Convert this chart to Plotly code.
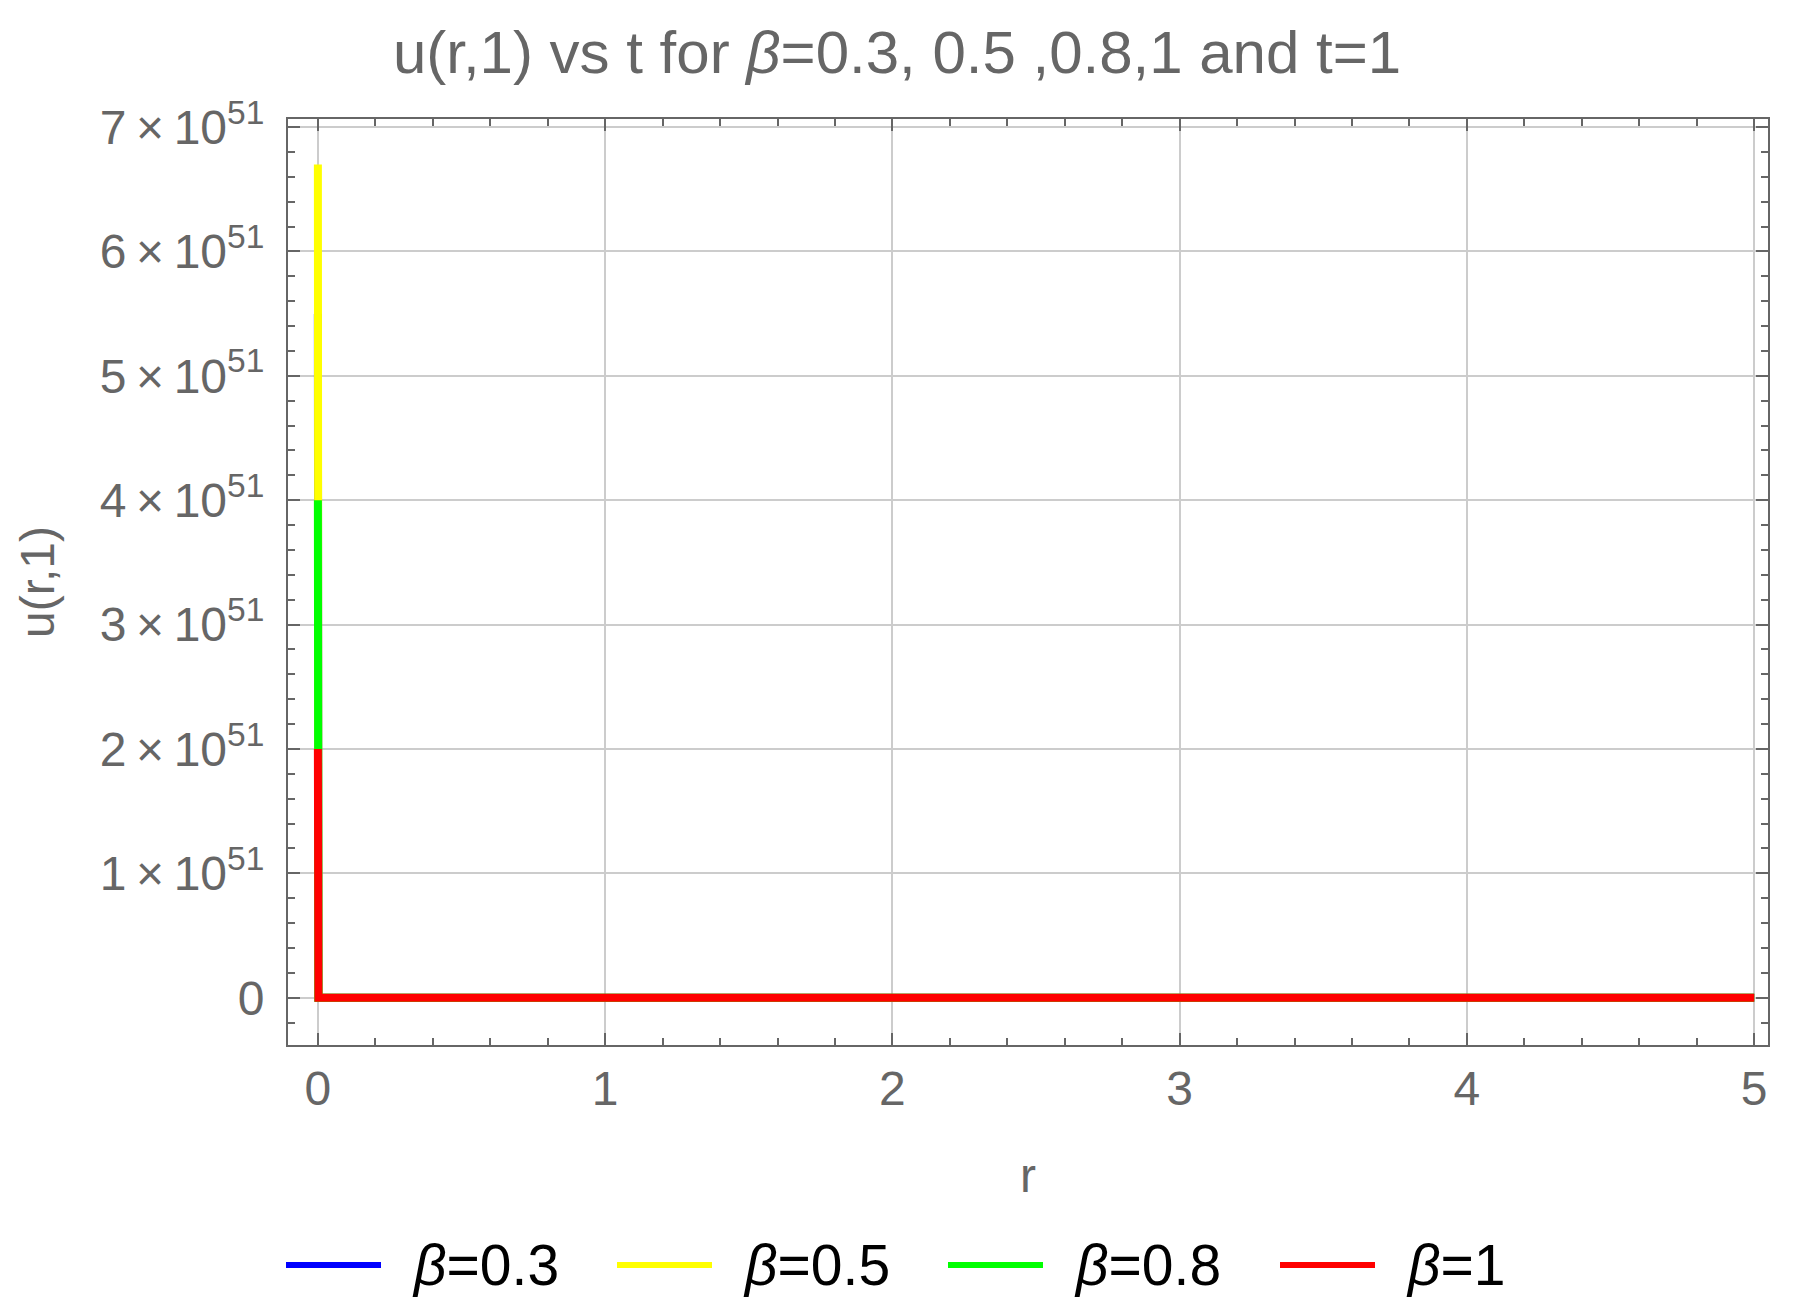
import plotly.graph_objects as go

# ---- data ----
r_vals = [0.0, 0.002, 5.0]
u_beta03 = [5.5e51, 0.0, 0.0]
u_beta05 = [6.7e51, 0.0, 0.0]
u_beta08 = [4.0e51, 0.0, 0.0]
u_beta1 = [2.0e51, 0.0, 0.0]
series_names = ["β=0.3", "β=0.5", "β=0.8", "β=1"]
legend_labels = ["<i>β</i>=0.3", "<i>β</i>=0.5", "<i>β</i>=0.8", "<i>β</i>=1"]
series_colors = ["#0000ff", "#ffff00", "#00ff00", "#ff0000"]
y_tickvals = [0, 1e51, 2e51, 3e51, 4e51, 5e51, 6e51, 7e51]
y_ticktext = ["0"] + [f"{k}\u2009×\u200910<sup>51</sup>" for k in range(1, 8)]
x_tickvals = [0, 1, 2, 3, 4, 5]

W, H = 1806, 1313
OFF = 8  # page body offset
L, R, T, B = 280, 46, 111, 276
PW, PH = W - L - R, H - T - B

FONT = "Liberation Sans, Arial, sans-serif"
GRAY = "#666666"

fig = go.Figure()
for name, ys, col in zip(series_names, [u_beta03, u_beta05, u_beta08, u_beta1], series_colors):
    fig.add_trace(go.Scatter(x=r_vals, y=ys, mode="lines", name=name,
                             line=dict(color=col, width=8), showlegend=False))

# custom legend (shapes + text) placed in paper coordinates (absolute page px -> paper)
def px2x(px):
    return (px - OFF - L) / PW

def py2y(py):
    return (H - B - (py - OFF)) / PH

leg_line_starts = [286, 617, 948, 1280]
leg_y = 1265
for i, (lab, col) in enumerate(zip(legend_labels, series_colors)):
    x0 = leg_line_starts[i]
    fig.add_shape(type="line", xref="paper", yref="paper",
                  x0=px2x(x0), x1=px2x(x0 + 95), y0=py2y(leg_y), y1=py2y(leg_y),
                  line=dict(color=col, width=6))
    fig.add_annotation(xref="paper", yref="paper", x=px2x(x0 + 124), y=py2y(leg_y),
                       text=lab, showarrow=False, xanchor="left", yanchor="middle",
                       font=dict(family=FONT, size=57, color="#000000"))

fig.update_layout(
    width=W, height=H,
    margin=dict(l=L, r=R, t=T, b=B, autoexpand=False),
    paper_bgcolor="white", plot_bgcolor="white",
    font=dict(family=FONT, color=GRAY),
    title=dict(text="u(r,1) vs t for <i>β</i>=0.3, 0.5 ,0.8,1 and t=1",
               x=(897 - OFF) / W, xref="container", xanchor="center",
               y=1 - (52 - OFF) / H, yref="container", yanchor="middle",
               font=dict(family=FONT, size=60, color=GRAY)),
    showlegend=False,
)

fig.update_xaxes(
    range=[-0.104, 5.048], tickmode="array", tickvals=x_tickvals,
    ticktext=[str(v) for v in x_tickvals],
    showline=True, linecolor=GRAY, linewidth=2, mirror="allticks",
    ticks="inside", ticklen=12, tickwidth=2, tickcolor=GRAY,
    tickfont=dict(family=FONT, size=48, color=GRAY), ticklabelstandoff=0,
    showgrid=True, gridcolor="#cccccc", gridwidth=1.5, zeroline=False,
    minor=dict(ticks="inside", tick0=0, dtick=0.2, ticklen=7, tickwidth=2,
               tickcolor=GRAY, showgrid=False),
    title=dict(text="r", font=dict(family=FONT, size=48, color=GRAY), standoff=45),
)
fig.update_yaxes(
    range=[-0.38e51, 7.065e51], tickmode="array", tickvals=y_tickvals, ticktext=y_ticktext,
    showline=True, linecolor=GRAY, linewidth=2, mirror="allticks",
    ticks="inside", ticklen=12, tickwidth=2, tickcolor=GRAY,
    tickfont=dict(family=FONT, size=48, color=GRAY), ticklabelstandoff=12,
    showgrid=True, gridcolor="#cccccc", gridwidth=1.5, zeroline=False,
    minor=dict(ticks="inside", tick0=0, dtick=0.2e51, ticklen=7, tickwidth=2,
               tickcolor=GRAY, showgrid=False),
    title=dict(text="u(r,1)", font=dict(family=FONT, size=48, color=GRAY), standoff=30),
)

fig.write_html("out.html")
